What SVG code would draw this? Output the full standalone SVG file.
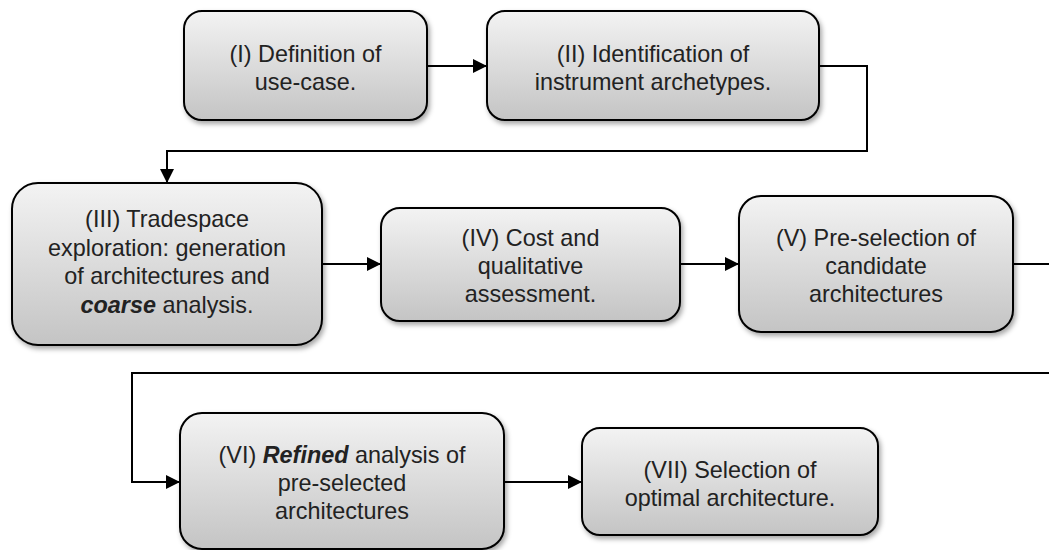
<svg xmlns="http://www.w3.org/2000/svg" width="1049" height="550" viewBox="0 0 1049 550">
  <defs>
    <linearGradient id="boxFill" x1="0" y1="0" x2="0" y2="1">
      <stop offset="0" stop-color="#f3f3f3"/>
      <stop offset="1" stop-color="#c4c4c4"/>
    </linearGradient>
    <filter id="shadow" x="-10%" y="-10%" width="125%" height="130%">
      <feDropShadow dx="2" dy="3" stdDeviation="2.5" flood-color="#000" flood-opacity="0.35"/>
    </filter>
    <marker id="head" viewBox="0 0 12 12" refX="12" refY="6" markerWidth="14" markerHeight="14" markerUnits="userSpaceOnUse" orient="auto">
      <path d="M0,0 L12,6 L0,12 Z" fill="#000"/>
    </marker>
  </defs>
  <style>
    .box { fill: url(#boxFill); stroke: #000; stroke-width: 2; filter: url(#shadow); }
    .label { font-family: "Liberation Sans", Arial, sans-serif; font-size: 23.4px; fill: #222; text-anchor: middle; }
    .em { font-weight: bold; font-style: italic; }
    .link { fill: none; stroke: #000; stroke-width: 2; }
    .arr { marker-end: url(#head); }
  </style>

  <rect width="1049" height="550" fill="#fff"/>

  <!-- connectors -->
  <g id="connectors">
    <path class="link arr" d="M427,66 H487"/>
    <path class="link arr" d="M819,66 H867 V151 H167 V183"/>
    <path class="link arr" d="M322,264 H381"/>
    <path class="link arr" d="M680,264 H739"/>
    <path class="link" d="M1013,264 H1049"/>
    <path class="link arr" d="M1049,373 H132 V482 H180"/>
    <path class="link arr" d="M504,482 H582"/>
  </g>

  <!-- steps -->
  <g id="step1">
    <rect class="box" x="184" y="11" width="243" height="109" rx="18"/>
    <text class="label" x="305.5" y="62">(I) Definition of</text>
    <text class="label" x="305.5" y="90">use-case.</text>
  </g>

  <g id="step2">
    <rect class="box" x="487" y="11" width="332" height="109" rx="18"/>
    <text class="label" x="653" y="62">(II) Identification of</text>
    <text class="label" x="653" y="90">instrument archetypes.</text>
  </g>

  <g id="step3">
    <rect class="box" x="12" y="183" width="310" height="162" rx="26"/>
    <text class="label" x="167" y="227">(III) Tradespace</text>
    <text class="label" x="167" y="255.5">exploration: generation</text>
    <text class="label" x="167" y="284">of architectures and</text>
    <text class="label" x="167" y="312.5"><tspan class="em">coarse</tspan> analysis.</text>
  </g>

  <g id="step4">
    <rect class="box" x="381" y="208" width="299" height="113" rx="19"/>
    <text class="label" x="530.5" y="246">(IV) Cost and</text>
    <text class="label" x="530.5" y="274">qualitative</text>
    <text class="label" x="530.5" y="302">assessment.</text>
  </g>

  <g id="step5">
    <rect class="box" x="739" y="196" width="274" height="136" rx="22"/>
    <text class="label" x="876" y="246">(V) Pre-selection of</text>
    <text class="label" x="876" y="274">candidate</text>
    <text class="label" x="876" y="302">architectures</text>
  </g>

  <g id="step6">
    <rect class="box" x="180" y="413" width="324" height="136" rx="22"/>
    <text class="label" x="342" y="463">(VI) <tspan class="em">Refined</tspan> analysis of</text>
    <text class="label" x="342" y="491">pre-selected</text>
    <text class="label" x="342" y="519">architectures</text>
  </g>

  <g id="step7">
    <rect class="box" x="582" y="428" width="296" height="107" rx="18"/>
    <text class="label" x="730" y="478">(VII) Selection of</text>
    <text class="label" x="730" y="506">optimal architecture.</text>
  </g>
</svg>
